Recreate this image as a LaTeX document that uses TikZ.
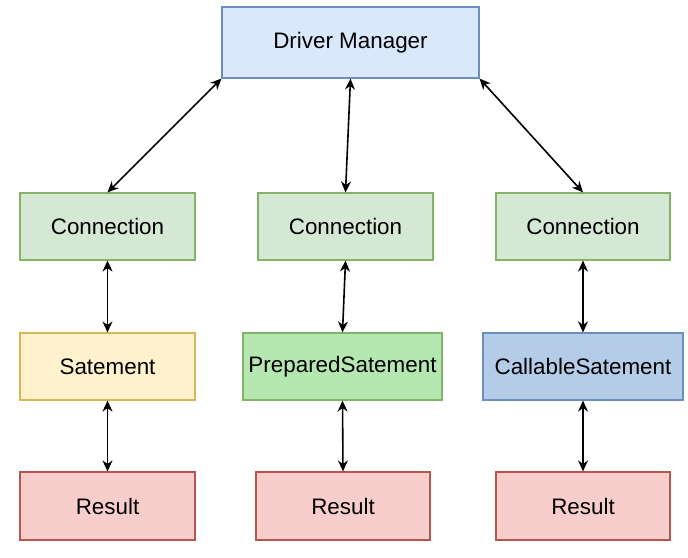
\documentclass[tikz,border=0pt]{standalone}
\usepackage{fontspec}
\setmainfont{Liberation Sans}
\usetikzlibrary{arrows.meta}
\definecolor{dmfill}{HTML}{DAE8FC}
\definecolor{dmline}{HTML}{6C8EBF}
\definecolor{cnfill}{HTML}{D5E8D4}
\definecolor{cnline}{HTML}{82B366}
\definecolor{stfill}{HTML}{FFF2CC}
\definecolor{stline}{HTML}{D6B656}
\definecolor{psfill}{HTML}{B5E8B0}
\definecolor{csfill}{HTML}{B5CCE9}
\definecolor{rsfill}{HTML}{F8CECC}
\definecolor{rsline}{HTML}{B85450}
\begin{document}
\begin{tikzpicture}[x=1pt,y=-1pt,
  box/.style={draw, line width=1.2pt, inner sep=0pt, align=center,
    font=\fontsize{22.4}{26}\selectfont},
  link/.style={line width=1.6pt, {Stealth[length=11pt,width=10pt]}-{Stealth[length=11pt,width=10pt]}}]
\useasboundingbox[fill=white] (0,0) rectangle (688,557);
\node[box, fill=dmfill, draw=dmline, minimum width=257pt, minimum height=71pt] (dm) at (350.5,42.5) {Driver Manager};
\node[box, fill=cnfill, draw=cnline, minimum width=175pt, minimum height=67pt] (c1) at (107.5,226.5) {Connection};
\node[box, fill=cnfill, draw=cnline, minimum width=175pt, minimum height=67pt] (c2) at (345.5,226.5) {Connection};
\node[box, fill=cnfill, draw=cnline, minimum width=174pt, minimum height=67pt] (c3) at (583,226.5) {Connection};
\node[box, fill=stfill, draw=stline, minimum width=175pt, minimum height=67pt] (s1) at (107.5,366.5) {Satement};
\node[box, fill=psfill, draw=cnline, minimum width=199pt, minimum height=67pt] (s2) at (342.5,366.5) {PreparedSatement};
\node[box, fill=csfill, draw=dmline, minimum width=200pt, minimum height=67pt] (s3) at (583,366.5) {CallableSatement};
\node[box, fill=rsfill, draw=rsline, minimum width=175pt, minimum height=68pt] (r1) at (107.5,506) {Result};
\node[box, fill=rsfill, draw=rsline, minimum width=174pt, minimum height=68pt] (r2) at (343,506) {Result};
\node[box, fill=rsfill, draw=rsline, minimum width=174pt, minimum height=68pt] (r3) at (583,506) {Result};
\draw[link] (dm.south west) -- (c1.north);
\draw[link] (dm.south) -- (c2.north);
\draw[link] (dm.south east) -- (c3.north);
\draw[link] (c1.south) -- (s1.north);
\draw[link] (c2.south) -- (s2.north);
\draw[link] (c3.south) -- (s3.north);
\draw[link] (s1.south) -- (r1.north);
\draw[link] (s2.south) -- (r2.north);
\draw[link] (s3.south) -- (r3.north);
\end{tikzpicture}
\end{document}
